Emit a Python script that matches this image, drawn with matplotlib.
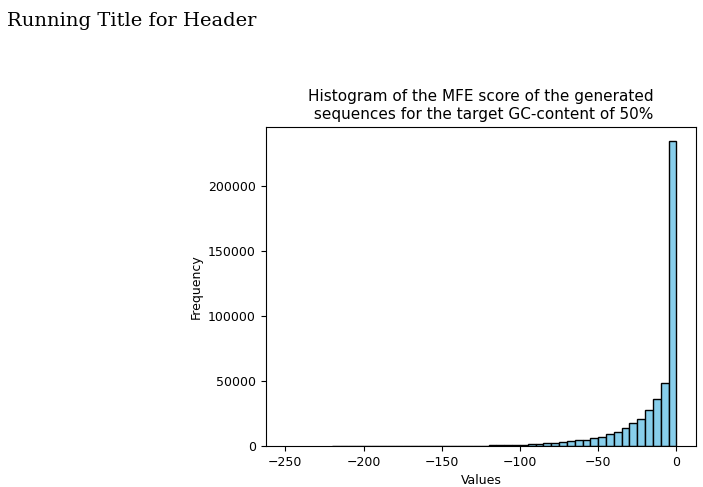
import numpy as np
import matplotlib
matplotlib.use("Agg")
import matplotlib.pyplot as plt

# bin counts, from -250 to 0 in steps of 5 (left to right)
counts = [5, 5, 6, 8, 10, 12, 15, 18, 22, 28,
          35, 45, 60, 80, 100, 130, 170, 220, 290, 370,
          470, 600, 760, 950, 1200, 1500, 1850, 2250, 2700, 3200,
          3800, 4300, 4900, 5900, 7200, 9000, 11000, 13600, 18000, 21000,
          28000, 36000, 48400, 234000]
bin_width = 5
edges = -bin_width * np.arange(len(counts), -1, -1)

fig = plt.figure(figsize=(7.03, 4.87), dpi=100)
fig.text(0.01, 0.975, "Running Title for Header", family="DejaVu Serif",
         fontsize=14, va="top", ha="left")
ax = fig.add_axes([0.378, 0.084, 0.612, 0.655])
ax.hist(edges[:-1], bins=edges, weights=counts, color="skyblue", edgecolor="black")
ax.set_xlim(-262.5, 12.5)
ax.set_xticks([-250, -200, -150, -100, -50, 0])
ax.set_xticklabels(["\u2212250", "\u2212200", "\u2212150", "\u2212100", "\u221250", "0"])
ax.set_ylim(0, 245000)
ax.set_yticks([0, 50000, 100000, 150000, 200000])
ax.tick_params(labelsize=9)
ax.set_xlabel("Values", fontsize=9)
ax.set_ylabel("Frequency", fontsize=9)
ax.set_title("Histogram of the MFE score of the generated\n sequences for the target GC-content of 50%",
             fontsize=11)
fig.savefig("out.png", dpi=100)
